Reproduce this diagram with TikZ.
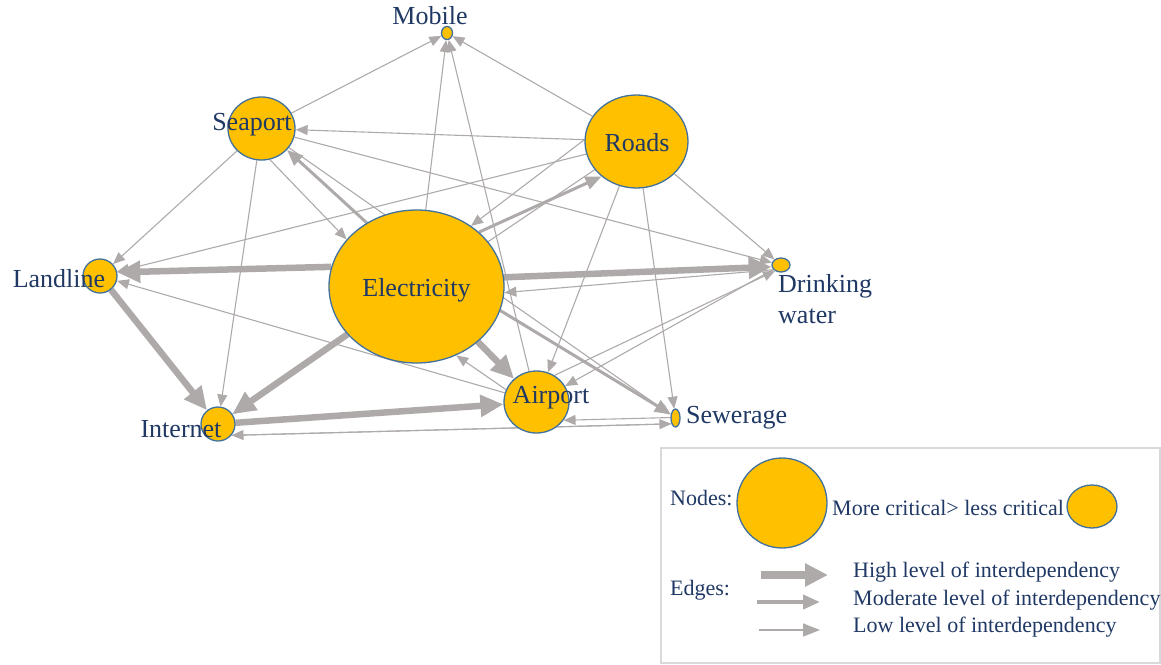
\documentclass[tikz,border=0pt]{standalone}
\usepackage{fontspec}
\setmainfont{Liberation Serif}
\usetikzlibrary{arrows.meta,shapes.geometric}
\pgfdeclarelayer{bg}
\pgfsetlayers{bg,main}
\definecolor{gold}{RGB}{255,192,0}
\definecolor{rim}{RGB}{65,113,156}
\definecolor{edgegray}{RGB}{174,170,170}
\definecolor{ink}{RGB}{31,56,100}
\definecolor{framegray}{RGB}{217,217,217}
\begin{document}
\begin{tikzpicture}[x=1pt,y=-1pt,
  nd/.style={ellipse, draw=rim, fill=gold, line width=1.3pt, inner sep=0pt},
  lbl/.style={text=ink, font=\fontsize{26}{31}\selectfont, inner sep=0pt, anchor=base},
  leg/.style={text=ink, font=\fontsize{22}{26}\selectfont, inner sep=0pt, anchor=base west},
  elo/.style={draw=edgegray, line width=1.1pt, -{Triangle[length=12pt,width=10pt]}},
  emid/.style={draw=edgegray, line width=3pt, -{Triangle[length=16pt,width=13pt]}},
  ehi/.style={draw=edgegray, line width=6.5pt, -{Triangle[length=23pt,width=21pt]}}]
\clip (0,0) rectangle (1161,664);
% nodes
\node[nd, minimum width=11pt, minimum height=13pt] (mob) at (447,33) {};
\node[nd, minimum width=67pt, minimum height=63pt] (sea) at (261.5,128.5) {};
\node[nd, minimum width=103pt, minimum height=93pt] (rd) at (636.5,141.5) {};
\node[nd, minimum width=175pt, minimum height=153pt] (ele) at (416.5,286.5) {};
\node[nd, minimum width=34pt, minimum height=34pt] (land) at (100,276) {};
\node[nd, minimum width=18pt, minimum height=14pt] (dw) at (781,265) {};
\node[nd, minimum width=34pt, minimum height=34pt] (inet) at (218,424) {};
\node[nd, minimum width=65pt, minimum height=62pt] (air) at (536.5,402) {};
\node[nd, minimum width=9pt, minimum height=18pt] (sew) at (675.5,418) {};
% edges
\begin{pgfonlayer}{bg}
\draw[elo] (sea) -- (mob);
\draw[elo] (ele) -- (mob);
\draw[elo] (air) -- (mob);
\draw[elo] (rd) -- (mob);
\draw[elo] (rd) -- (sea);
\draw[emid] (ele.128) -- (sea.-40);
\draw[elo] (sea.-75) -- (ele.146);
\draw[elo] (sea) -- (land);
\draw[elo] (rd) -- (land);
\draw[ehi] (ele.167) -- (land.12);
\draw[elo] (air) -- (land);
\draw[ehi] (land) -- (inet);
\draw[elo] (sea) -- (inet);
\draw[ehi] (ele) -- (inet);
\draw[elo] (rd) -- (inet);
\draw[ehi] (inet) -- (air);
\draw[elo] (sea) -- (dw);
\draw[elo] (sea) -- (sew);
\draw[emid] (ele.41) -- (rd.-135);
\draw[elo] (rd.178) -- (ele.48);
\draw[elo] (rd) -- (air);
\draw[elo] (rd) -- (dw);
\draw[elo] (rd) -- (sew);
\draw[ehi] (ele.6) -- (dw.191);
\draw[elo] (dw.212) -- (ele.-4);
\draw[ehi] (ele.-42) -- (air.134);
\draw[elo] (air.158) -- (ele.-60);
\draw[emid] (ele.-16) -- (sew.141);
\draw[elo] (air.56) -- (dw.225);
\draw[elo] (dw.210) -- (air.29);
\draw[elo] (sew.175) -- (air.-34);
\draw[elo] (inet.-40) -- (sew.235);
\draw[elo] (sew.235) -- (inet.-40);
\end{pgfonlayer}
% labels
\node[lbl] (tmob) at (430,24) {Mobile};
\node[lbl] (tsea) at (252,130) {Seaport};
\node[lbl] (trd) at (637,151) {Roads};
\node[lbl] (tele) at (416.5,296) {Electricity};
\node[lbl] (tland) at (59,287) {Landline};
\node[lbl, anchor=north west, align=left] (tdw) at (778,274) {Drinking\\water};
\node[lbl] (tinet) at (181,437) {Internet};
\node[lbl] (tair) at (551,403) {Airport};
\node[lbl, anchor=base west] (tsew) at (686,423) {Sewerage};
% legend
\draw[framegray, line width=1.5pt] (661,448) rectangle (1160,663);
\node[nd, minimum width=90pt, minimum height=90pt] (lgbig) at (782,503) {};
\node[nd, minimum width=50pt, minimum height=43pt] (lgsmall) at (1092,506.5) {};
\node[leg] (tnodes) at (670,505) {Nodes:};
\node[leg] (tcrit) at (832,515) {More critical> less critical};
\node[leg] (tedges) at (670,595) {Edges:};
\node[leg] (thigh) at (853,577) {High level of interdependency};
\node[leg] (tmod) at (853,605) {Moderate level of interdependency};
\node[leg] (tlow) at (853,632) {Low level of interdependency};
\coordinate (h1) at (761,575); \coordinate (h2) at (828,575);
\coordinate (m1) at (757,602); \coordinate (m2) at (820,602);
\coordinate (l1) at (759,630); \coordinate (l2) at (820,630);
\draw[draw=edgegray, line width=8pt, -{Triangle[length=23pt,width=22pt]}] (h1) -- (h2);
\draw[draw=edgegray, line width=4pt, -{Triangle[length=17pt,width=14pt]}] (m1) -- (m2);
\draw[draw=edgegray, line width=1.5pt, -{Triangle[length=17pt,width=13pt]}] (l1) -- (l2);
\end{tikzpicture}
\end{document}
